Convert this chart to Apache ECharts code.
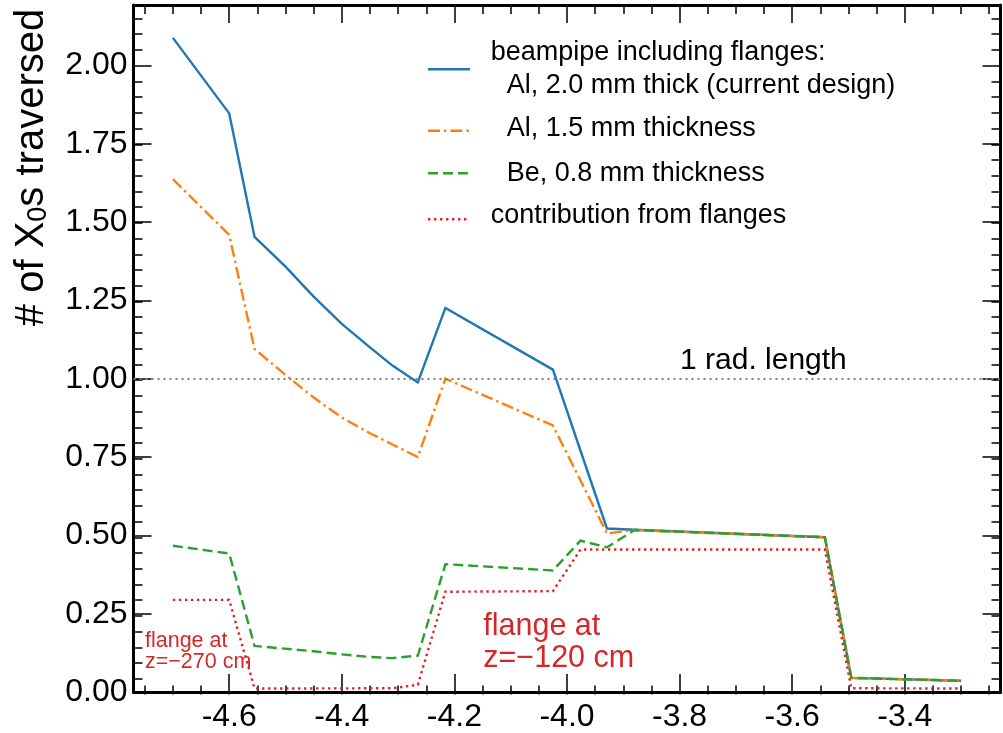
<!DOCTYPE html>
<html>
<head>
<meta charset="utf-8">
<script src="https://cdn.jsdelivr.net/npm/echarts@6/dist/echarts.min.js"></script>
<style>
html,body{margin:0;padding:0;background:#fff;}
#chart{width:1003px;height:733px;}
</style>
</head>
<body>
<div id="chart"></div>
<script>
// ---- data ----
const eta = [-4.70, -4.60, -4.555, -4.50, -4.45, -4.40, -4.35, -4.31, -4.265, -4.216, -4.025, -3.976, -3.929, -3.88, -3.542, -3.495, -3.30];
const al20 = [2.088, 1.847, 1.453, 1.358, 1.262, 1.175, 1.100, 1.042, 0.988, 1.226, 1.029, null, 0.522, 0.518, 0.494, 0.045, 0.036];
const al15 = [1.637, 1.459, 1.095, 1.012, 0.940, 0.876, 0.826, 0.790, 0.750, 1.000, 0.851, null, 0.506, 0.517, 0.494, 0.045, 0.036];
const be08 = [0.467, 0.442, 0.147, null, 0.130, 0.120, 0.112, 0.108, 0.116, 0.408, 0.388, 0.483, 0.462, 0.517, 0.494, 0.045, 0.036];
const flanges = [0.294, 0.294, 0.011, null, null, null, null, 0.012, 0.023, 0.320, 0.322, 0.455, null, null, 0.455, 0.012, 0.011];
const radLength = 1.0;

const seriesNames = ['beampipe Al 2.0 mm', 'Al 1.5 mm', 'Be 0.8 mm', 'flanges'];
const xTickLabels = [-4.6, -4.4, -4.2, -4.0, -3.8, -3.6, -3.4];
const yTickLabels = [0, 0.25, 0.5, 0.75, 1.0, 1.25, 1.5, 1.75, 2.0];
const xRange = [-4.77, -3.23];
const yRange = [0, 2.193];

// minor tick positions (axis decoration)
const xMinor = [];
for (let i = -95; i <= -65; i++) xMinor.push(+(i * 0.05).toFixed(2));
const yMinor = [];
for (let i = 1; i <= 43; i++) yMinor.push(+(i * 0.05).toFixed(2));

function pairs(xs, ys) {
  const out = [];
  for (let i = 0; i < xs.length; i++) if (ys[i] !== null) out.push([xs[i], ys[i]]);
  return out;
}

const FONT = "'Liberation Sans', Arial, Helvetica, sans-serif";
const C = { blue: '#1f77b4', orange: '#ff7f0e', green: '#2ca02c', red: '#d62728' };
const gridRect = { left: 133.5, right: 2.5, top: 5, bottom: 38.5 };
const LW = 2.4;
const DASH = { orange: [12, 4, 2.4, 4], green: [10, 5], red: [2.4, 3.6] };

function xAx(gridIndex, position, ticks, len, withLabels) {
  return {
    type: 'value', gridIndex, position, min: xRange[0], max: xRange[1],
    axisLine: { show: gridIndex === 0, onZero: false, lineStyle: { color: '#000', width: 3 } },
    axisTick: { show: true, inside: true, length: len, customValues: ticks, lineStyle: { color: '#000', width: 1.5 } },
    axisLabel: withLabels ? {
      show: true, customValues: xTickLabels, margin: 9, color: '#000', fontSize: 32, fontFamily: FONT,
      formatter: v => v.toFixed(1)
    } : { show: false },
    splitLine: { show: false }
  };
}
function yAx(gridIndex, position, ticks, len, withLabels) {
  return {
    type: 'value', gridIndex, position, min: yRange[0], max: yRange[1],
    axisLine: { show: gridIndex === 0, onZero: false, lineStyle: { color: '#000', width: 3 } },
    axisTick: { show: true, inside: true, length: len, customValues: ticks, lineStyle: { color: '#000', width: 1.5 } },
    axisLabel: withLabels ? {
      show: true, customValues: yTickLabels, margin: 6, color: '#000', fontSize: 32, fontFamily: FONT,
      formatter: v => v.toFixed(2)
    } : { show: false },
    splitLine: { show: false }
  };
}

const chart = echarts.init(document.getElementById('chart'));
const legendRows = [
  { x: 490.7, y: 52.5, text: 'beampipe including flanges:' },
  { x: 506.7, y: 85.8, text: 'Al, 2.0 mm thick (current design)' },
  { x: 506.7, y: 129, text: 'Al, 1.5 mm thickness' },
  { x: 506.7, y: 174, text: 'Be, 0.8 mm thickness' },
  { x: 490.7, y: 216, text: 'contribution from flanges' }
];
const legendLines = [
  { y: 69.3, color: C.blue, dash: null },
  { y: 130.7, color: C.orange, dash: DASH.orange },
  { y: 173.3, color: C.green, dash: DASH.green },
  { y: 219.3, color: C.red, dash: DASH.red }
];
const graphics = [];
legendLines.forEach(l => graphics.push({
  type: 'line', shape: { x1: 428, y1: l.y, x2: 470, y2: l.y },
  style: { stroke: l.color, lineWidth: LW, lineDash: l.dash }
}));
legendRows.forEach(r => graphics.push({
  type: 'text', x: r.x, y: r.y,
  style: { text: r.text, font: '27px ' + FONT, fill: '#000', align: 'left', verticalAlign: 'middle' }
}));
graphics.push(
  { type: 'text', x: 680, y: 360.5, style: { text: '1 rad. length', font: '30px ' + FONT, fill: '#000', align: 'left', verticalAlign: 'middle' } },
  { type: 'text', x: 145, y: 641.5, style: { text: 'flange at', font: '21.5px ' + FONT, fill: C.red, align: 'left', verticalAlign: 'middle' } },
  { type: 'text', x: 145, y: 662.5, style: { text: 'z=\u2212270 cm', font: '21.5px ' + FONT, fill: C.red, align: 'left', verticalAlign: 'middle' } },
  { type: 'text', x: 483.3, y: 626.4, style: { text: 'flange at', font: '30.5px ' + FONT, fill: C.red, align: 'left', verticalAlign: 'middle' } },
  { type: 'text', x: 483.3, y: 659, style: { text: 'z=\u2212120 cm', font: '30.5px ' + FONT, fill: C.red, align: 'left', verticalAlign: 'middle' } },
  {
    type: 'text', x: 31.5, y: 167.5, rotation: Math.PI / 2,
    style: {
      text: '{a|# of X}{s|0}{a|s traversed}', align: 'center', verticalAlign: 'middle',
      rich: {
        a: { fontSize: 40, fontFamily: FONT, fill: '#000', lineHeight: 40, verticalAlign: 'top' },
        s: { fontSize: 27, fontFamily: FONT, fill: '#000', lineHeight: 27, verticalAlign: 'top', padding: [14, 0, 0, 0] }
      }
    }
  }
);

function lineSeries(name, ys, color, dash, extra) {
  return Object.assign({
    name, type: 'line', xAxisIndex: 0, yAxisIndex: 0, data: pairs(eta, ys),
    showSymbol: false, symbol: 'none', smooth: false,
    lineStyle: { color, width: LW, type: dash || 'solid', cap: 'butt', join: 'miter' },
    itemStyle: { color }
  }, extra || {});
}

const option = {
  animation: false,
  backgroundColor: '#fff',
  grid: [Object.assign({}, gridRect), Object.assign({}, gridRect)],
  xAxis: [
    xAx(0, 'bottom', xTickLabels, 18, true),
    xAx(0, 'top', xTickLabels, 18, false),
    xAx(1, 'bottom', xMinor, 9, false),
    xAx(1, 'top', xMinor, 9, false)
  ],
  yAxis: [
    yAx(0, 'left', yTickLabels, 18, true),
    yAx(0, 'right', yTickLabels, 18, false),
    yAx(1, 'left', yMinor, 9, false),
    yAx(1, 'right', yMinor, 9, false)
  ],
  series: [
    lineSeries(seriesNames[0], al20, C.blue, null, {
      markLine: {
        silent: true, symbol: 'none', label: { show: false },
        lineStyle: { color: '#808080', width: 2, type: [2, 4] },
        data: [{ yAxis: radLength }]
      }
    }),
    lineSeries(seriesNames[1], al15, C.orange, DASH.orange),
    lineSeries(seriesNames[2], be08, C.green, DASH.green),
    lineSeries(seriesNames[3], flanges, C.red, DASH.red)
  ],
  graphic: graphics
};
chart.setOption(option);
</script>
</body>
</html>
